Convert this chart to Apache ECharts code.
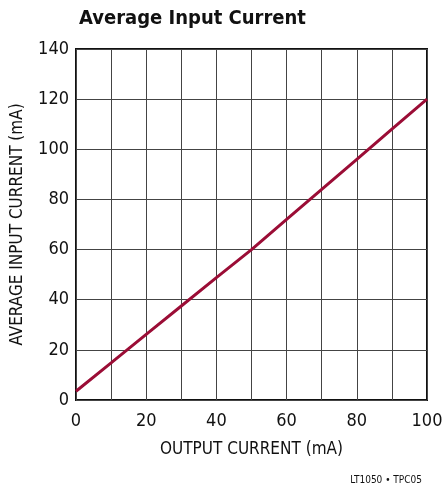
<!DOCTYPE html>
<html><head><meta charset="utf-8">
<script src="https://cdn.jsdelivr.net/npm/echarts@6/dist/echarts.min.js"></script>
<style>html,body{margin:0;padding:0;background:#fff}#c{width:443px;height:487px}</style>
</head><body><div id="c"></div>
<script>
const outputCurrent = [0, 10, 20, 30, 40, 50, 60, 70, 80, 90, 100];
const inputCurrent = [3.5, 14.8, 26.2, 37.5, 48.8, 60, 72, 84, 96, 108, 120];
const xTicks = [0, 20, 40, 60, 80, 100];
const yTicks = [0, 20, 40, 60, 80, 100, 120, 140];
const FONT = '"Liberation Sans Narrow", "DejaVu Sans Condensed", "Roboto", sans-serif';
const chart = echarts.init(document.getElementById('c'));
chart.setOption({
  animation: false,
  title: [{
    text: 'Average Input Current', left: 74, top: 4,
    textStyle: {fontFamily: FONT, fontWeight: 'bold', fontSize: 20, color: '#111'}
  }, {
    text: 'LT1050 • TPC05', right: 16, top: 470,
    textStyle: {fontFamily: FONT, fontWeight: 'normal', fontSize: 10, color: '#111'}
  }],
  grid: {left: 76, right: 16, top: 49, bottom: 87, show: true, borderColor: '#111', borderWidth: 2,
         containLabel: false, outerBoundsMode: 'none'},
  xAxis: {
    type: 'value', min: 0, max: 100, interval: 10,
    name: 'OUTPUT CURRENT (mA)', nameLocation: 'middle', nameGap: 41,
    nameTextStyle: {fontFamily: FONT, fontSize: 17, color: '#111'},
    axisLine: {show: false}, axisTick: {show: false},
    axisLabel: {fontFamily: FONT, fontSize: 18, color: '#111', margin: 12,
      formatter: v => xTicks.includes(v) ? String(v) : ''},
    splitLine: {show: true, lineStyle: {color: '#444', width: 1}}
  },
  yAxis: {
    type: 'value', min: 0, max: 140, interval: 20,
    name: 'AVERAGE INPUT CURRENT (mA)', nameLocation: 'middle', nameGap: 50,
    nameTextStyle: {fontFamily: FONT, fontSize: 17, color: '#111'},
    axisLine: {show: false}, axisTick: {show: false},
    axisLabel: {fontFamily: FONT, fontSize: 18, color: '#111', margin: 7,
      formatter: v => yTicks.includes(v) ? String(v) : ''},
    splitLine: {show: true, lineStyle: {color: '#444', width: 1}}
  },
  series: [{
    type: 'line', data: outputCurrent.map((x, i) => [x, inputCurrent[i]]),
    showSymbol: false, smooth: false,
    lineStyle: {color: '#9b0d36', width: 3}
  }]
});
</script></body></html>
